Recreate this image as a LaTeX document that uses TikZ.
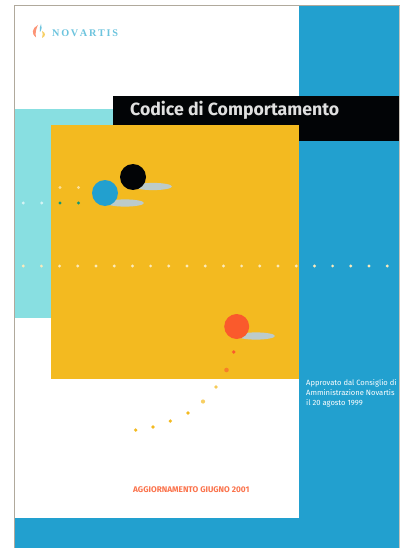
\documentclass[tikz,border=0pt]{standalone}
\usepackage{fontspec}
\setmainfont{Fira Sans}
\newfontfamily\logofont{Liberation Serif}
\definecolor{cblue}{HTML}{22A0CF}
\definecolor{ccyan}{HTML}{88DFE1}
\definecolor{cyellow}{HTML}{F3BA20}
\definecolor{cblack}{HTML}{020406}
\definecolor{cred}{HTML}{FA5A2C}
\definecolor{cgrey}{HTML}{BCCBCB}
\definecolor{cedge}{HTML}{B0A99C}
\definecolor{clogo}{HTML}{6CC4DE}
\tikzset{
  band/.style={fill,draw=none},
  spot/.style={circle,fill,draw=none,inner sep=0pt,minimum size=#1},
  spot/.default=3.2pt,
  shade/.style={fill=cgrey,draw=none},
  caption/.style={inner sep=0pt,font=\fontsize{7.6}{10}\selectfont,text=white,align=left,anchor=north west}
}
\begin{document}
\begin{tikzpicture}[x=1pt,y=-1pt]
\useasboundingbox (0,0) rectangle (400,548);
\fill[white] (0,0) rectangle (400,548);
% flat colour panels
\fill[band,ccyan] (15,109) rectangle (113,317.5);
\fill[band,cblue] (299,6.5) rectangle (399,548);
\fill[band,cblue] (15,518) rectangle (299,548);
\fill[band,cblack] (113,96) rectangle (399,141);
\fill[band,cyellow] (51,125.5) rectangle (299,379);
% page edge
\draw[cedge,line width=1pt] (14.5,548) -- (14.5,6) -- (399.5,6);
\draw[cedge!70,line width=0.6pt] (399.6,6) -- (399.6,548);
% logo
\fill[cred!65] (38,25) .. controls (32,28) and (31,34) .. (36,37.5) .. controls (35,33) and (36,29) .. (38,25);
\fill[clogo] (41,24) .. controls (40,27) and (39,29) .. (40,32) .. controls (42,29) and (42,27) .. (41,24);
\fill[cyellow!70] (42,31) .. controls (46,33) and (46,36) .. (42,38) .. controls (43,35) and (43,33) .. (42,31);
\node[inner sep=0pt,anchor=west,text=clogo,font=\logofont\bfseries\fontsize{10.2}{10}\selectfont] (logo) at (52,33) {N\,O\,V\,A\,R\,T\,I\,S};
% title
\node[inner sep=0pt,anchor=west,text=white!88!black,font=\bfseries\fontsize{17.7}{18}\selectfont] (title) at (130,110.5) {Codice di Comportamento};
% shadows and discs
\fill[shade] (153,186.5) ellipse (19 and 3.6);
\fill[shade] (125,203) ellipse (19 and 3.6);
\fill[shade] (256,336) ellipse (19 and 3.6);
\node[spot=26pt,fill=cblack] (d1) at (133,177) {};
\node[spot=26pt,fill=cblue] (d2) at (105,193) {};
\node[spot=25pt,fill=cred] (d3) at (236.7,326.5) {};
% dotted row across the page
\foreach \i in {0,...,20} {
  \pgfmathsetmacro{\px}{23.2+18.2*\i}
  \node[spot,fill=white!70!cyellow] (r\i) at (\px,266) {};
}
% small dots beside the discs
\node[spot,fill=white!55!cyellow] (a1) at (60,187.5) {};
\node[spot,fill=white!55!cyellow] (a2) at (78.5,187.5) {};
\node[spot,fill=white!65!ccyan] (b1) at (23.2,203) {};
\node[spot,fill=white!65!ccyan] (b2) at (41.7,203) {};
\node[spot,fill=cblue!70!green!80!black] (b3) at (60,203) {};
\node[spot,fill=cblue!70!green!80!black] (b4) at (78.5,203) {};
% curved trail of dots
\node[spot=3.6pt,fill=cred] (t1) at (233.7,352) {};
\node[spot=4.6pt,fill=cred!60!cyellow] (t2) at (226.5,370) {};
\node[spot=3.8pt,fill=cyellow!75] (t3) at (216,387) {};
\node[spot=4.2pt,fill=cyellow!70] (t4) at (203,401.5) {};
\node[spot=3.6pt,fill=cyellow] (t5) at (188,413) {};
\node[spot=3.6pt,fill=cyellow] (t6) at (170.3,421) {};
\node[spot=3.6pt,fill=cyellow] (t7) at (153,427) {};
\node[spot=3.6pt,fill=cyellow] (t8) at (135.7,430) {};
% captions
\node[caption] (cap) at (306,379.2) {Approvato dal Consiglio di\\Amministrazione Novartis\\il 20 agosto 1999};
\node[inner sep=0pt,anchor=west,text=cred!85,font=\bfseries\fontsize{8.25}{8}\selectfont] (upd) at (133,490) {AGGIORNAMENTO GIUGNO 2001};
\end{tikzpicture}
\end{document}
